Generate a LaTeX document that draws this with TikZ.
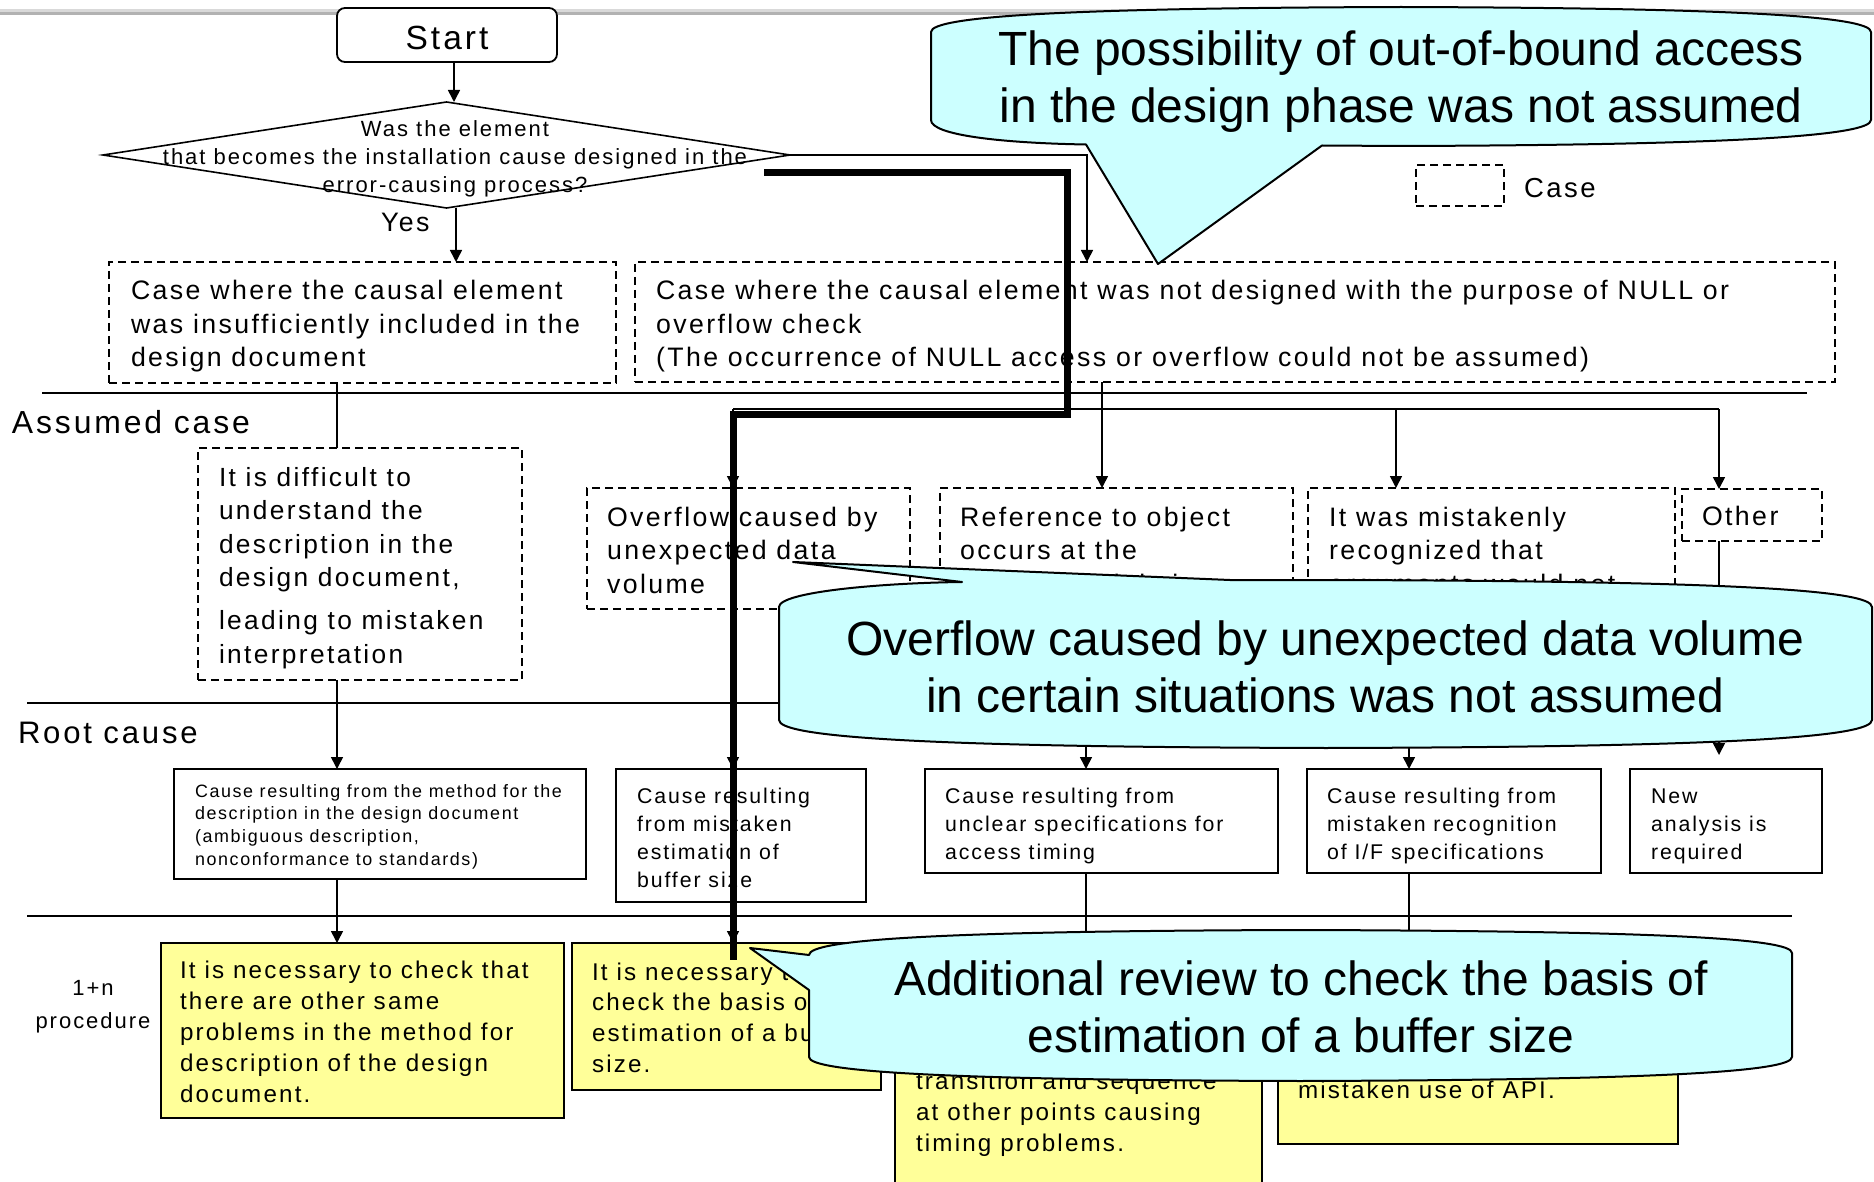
\documentclass[tikz,border=0pt]{standalone}
\usepackage{fontspec}
\setmainfont{Liberation Sans}
\newfontfamily\spacedsans[LetterSpace=9]{Liberation Sans}
\usetikzlibrary{arrows.meta,shapes.geometric}
\definecolor{calloutcyan}{HTML}{CCFFFF}
\definecolor{actionyellow}{HTML}{FFFF99}
% multi-line text whose baseline is the baseline of its first line
\newcommand\leftlines[1]{\vtop{\halign{##\hfil\cr#1\crcr}}}
\newcommand\centerlines[1]{\vtop{\halign{\hfil##\hfil\cr#1\crcr}}}
\newcommand\setfs[2]{\spacedsans\fontsize{#1}{#2}\selectfont}

\begin{document}
\begin{tikzpicture}[x=1pt,y=-1pt,
  every node/.style={inner sep=0pt,outer sep=0pt},
  wire/.style={line width=1.6pt},
  arr/.style={line width=1.6pt,-{Triangle[length=12pt,width=12pt]}},
  casebox/.style={draw,line width=1.5pt,dash pattern=on 8pt off 5pt},
  causebox/.style={draw,fill=white,line width=2pt},
  actbox/.style={draw,fill=actionyellow,line width=2.4pt},
  txt/.style={anchor=base west},
  ctxt/.style={anchor=base},
  callout/.style={fill=calloutcyan,draw=black,line width=2pt,line join=round},
  marker/.style={line width=7pt,line join=miter}
]
\fill[white] (0,0) rectangle (1874,1182);
\useasboundingbox (0,0) rectangle (1874,1182);

% window rule along the top edge
\fill[gray!30] (0,9) rectangle (1874,12);
\fill[gray!60] (0,12) rectangle (1874,15);

% ---------- decision part ----------
\node[draw,fill=white,line width=1.8pt,rounded corners=8pt,minimum width=220pt,minimum height=54pt] (start) at (447,35) {};
\node[ctxt,font=\setfs{33.5}{40}] (startt) at (447,50) {Start};

\node[draw,diamond,line width=1.6pt,minimum width=687pt,minimum height=106pt] (dia) at (446.5,155) {};
\node[ctxt,font=\setfs{22}{28}] (diat) at (455,137) {\centerlines{Was the element\cr that becomes the installation cause designed in the\cr error-causing process?}};
\node[txt,font=\setfs{26.7}{33}] (yes) at (381,232) {Yes};

% ---------- cases ----------
\node[casebox,minimum width=507pt,minimum height=121pt] (box1) at (362.5,322.5) {};
\node[txt,font=\setfs{26.7}{33.3}] (box1t) at (131,300) {\leftlines{Case where the causal element\cr was insufficiently included in the\cr design document}};

\node[casebox,minimum width=1200pt,minimum height=120pt] (box2) at (1235,322) {};
\node[txt,font=\setfs{26.7}{33.3}] (box2t) at (656,300) {\leftlines{Case where the causal element was not designed with the purpose of NULL or\cr overflow check\cr (The occurrence of NULL access or overflow could not be assumed)}};

% legend
\node[casebox,minimum width=88pt,minimum height=41pt] (legbox) at (1460,185.5) {};
\node[txt,font=\setfs{27.5}{33}] (legt) at (1524,198) {Case};

% ---------- band separators and labels ----------
\coordinate (sepA1) at (42,393);   \coordinate (sepA2) at (1807,393);
\coordinate (sepB1) at (27,703);   \coordinate (sepB2) at (1807,703);
\coordinate (sepC1) at (27,916);   \coordinate (sepC2) at (1792,916);
\draw[line width=2pt] (sepA1) -- (sepA2);
\draw[line width=2pt] (sepB1) -- (sepB2);
\draw[line width=2pt] (sepC1) -- (sepC2);
\node[txt,font=\setfs{31.9}{35}] (lblassumed) at (12,433) {Assumed case};
\node[txt,font=\setfs{31.1}{35}] (lblroot) at (18,743) {Root cause};
\node[ctxt,font=\setfs{22}{33}] (lblproc) at (93,995) {\centerlines{1+n\cr procedure}};

% ---------- assumed cases ----------
\node[casebox,minimum width=324pt,minimum height=232pt] (box3) at (360,564) {};
\node[txt,font=\setfs{26.3}{33.6}] (box3t) at (219,486) {\leftlines{It is difficult to\cr understand the\cr description in the\cr design document,\cr\noalign{\vskip 9.4pt} leading to mistaken\cr interpretation}};

\node[casebox,minimum width=323pt,minimum height=121pt] (ovf) at (748.5,548.5) {};
\node[txt,font=\setfs{26.7}{33.5}] (ovft) at (607,526) {\leftlines{Overflow caused by\cr unexpected data\cr volume}};

\node[casebox,minimum width=353pt,minimum height=121pt] (ref) at (1116.5,548.5) {};
\node[txt,font=\setfs{26.7}{33.5}] (reft) at (960,526) {\leftlines{Reference to object\cr occurs at the\cr unexpected timing}};

\node[casebox,minimum width=367pt,minimum height=121pt] (mis) at (1491.5,548.5) {};
\node[txt,font=\setfs{26.7}{33.5}] (mist) at (1329,526) {\leftlines{It was mistakenly\cr recognized that\cr arguments would not}};

\node[casebox,minimum width=140pt,minimum height=52pt] (other) at (1752,515) {};
\node[txt,font=\setfs{26.7}{33.5}] (othert) at (1702,525) {Other};

% ---------- root causes ----------
\node[causebox,minimum width=412pt,minimum height=110pt] (root1) at (380,824) {};
\node[txt,font=\setfs{17.9}{22.7}] (root1t) at (195,797) {\leftlines{Cause resulting from the method for the\cr description in the design document\cr (ambiguous description,\cr nonconformance to standards)}};

\node[causebox,minimum width=250pt,minimum height=133pt] (root2) at (741,835.5) {};
\node[txt,font=\setfs{21.3}{28}] (root2t) at (637,803) {\leftlines{Cause resulting\cr from mistaken\cr estimation of\cr buffer size}};

\node[causebox,minimum width=353pt,minimum height=104pt] (root3) at (1101.5,821) {};
\node[txt,font=\setfs{21.3}{28}] (root3t) at (945,803) {\leftlines{Cause resulting from\cr unclear specifications for\cr access timing}};

\node[causebox,minimum width=294pt,minimum height=104pt] (root4) at (1454,821) {};
\node[txt,font=\setfs{21.3}{28}] (root4t) at (1327,803) {\leftlines{Cause resulting from\cr mistaken recognition\cr of I/F specifications}};

\node[causebox,minimum width=192pt,minimum height=104pt] (root5) at (1726,821) {};
\node[txt,font=\setfs{21.3}{28}] (root5t) at (1651,803) {\leftlines{New\cr analysis is\cr required}};

% ---------- 1+n procedure ----------
\node[actbox,minimum width=403pt,minimum height=175pt] (yel1) at (362.5,1030.5) {};
\node[txt,font=\setfs{24.2}{31}] (yel1t) at (180,978) {\leftlines{It is necessary to check that\cr there are other same\cr problems in the method for\cr description of the design\cr document.}};

\node[actbox,minimum width=309pt,minimum height=147pt] (yel2) at (726.5,1016.5) {};
\node[txt,font=\setfs{24.2}{30.7}] (yel2t) at (592,980) {\leftlines{It is necessary to\cr check the basis of\cr estimation of a buffer\cr size.}};

\node[actbox,minimum width=367pt,minimum height=257pt] (yel3) at (1078.5,1071.5) {};
\node[txt,font=\setfs{24.2}{31}] (yel3t) at (916,1089) {\leftlines{transition and sequence\cr at other points causing\cr timing problems.}};

\node[actbox,minimum width=400pt,minimum height=201pt] (yel4) at (1478,1043.5) {};
\node[txt,font=\setfs{24.2}{31}] (yel4t) at (1298,1098) {mistaken use of API.};

% ---------- connectors ----------
\coordinate (colStart) at (454,0);
\coordinate (colYes) at (456,0);
\coordinate (colNo) at (1087,0);
\coordinate (colBus) at (1102,0);
\coordinate (colLeft) at (337,0);
\coordinate (colRef) at (1086,0);
\coordinate (colMis) at (1409,0);
\coordinate (busL) at (733,409);
\coordinate (busM) at (1396,409);
\coordinate (busR) at (1719,409);
\coordinate (otherTip) at (1719,755);

\draw[arr] (start.south -| colStart) -- (dia.north -| colStart);
\draw[arr] (dia.south -| colYes) -- (box1.north -| colYes);
\draw[arr] (dia.east) -| (box2.north -| colNo);
\draw[wire] (box1.south -| colLeft) -- (box3.north -| colLeft);
\draw[arr] (box3.south -| colLeft) -- (root1.north -| colLeft);
\draw[arr] (root1.south -| colLeft) -- (yel1.north -| colLeft);

\draw[arr] (box2.south -| colBus) -- (ref.north -| colBus);
\draw[wire] (busL) -- (busR);
\draw[arr] (busL) -- (ovf.north -| busL);
\draw[arr] (busM) -- (mis.north -| busM);
\draw[arr] (busR) -- (other.north -| busR);

\draw[arr] (ovf.south -| busL) -- (root2.north -| busL);
\draw[arr] (root2.south -| busL) -- (yel2.north -| busL);
\draw[arr] (ref.south -| colRef) -- (root3.north -| colRef);
\draw[arr] (root3.south -| colRef) -- (yel3.north -| colRef);
\draw[arr] (mis.south -| colMis) -- (root4.north -| colMis);
\draw[arr] (root4.south -| colMis) -- (yel4.north -| colMis);
\draw[arr] (other.south -| otherTip) -- (otherTip);

% ---------- highlighted path ----------
\coordinate (hk0) at (764,173);
\coordinate (hk1) at (1067,173);
\coordinate (hk2) at (1067,414);
\coordinate (hk3) at (733,414);
\coordinate (hk4) at (733,960);
\draw[marker] (hk0) -- (hk1) -- (hk2) -- (hk3) -- (hk4);

% ---------- speech balloons ----------
\filldraw[callout] (931,32) .. controls (931,16) and (1071,8) .. (1401,7)
  .. controls (1731,8) and (1871,16) .. (1871,32) -- (1871,120)
  .. controls (1871,136) and (1731,145) .. (1401,146) -- (1322,145.5)
  -- (1158,264) -- (1086,144.5) .. controls (1000,143) and (931,135) .. (931,120) -- cycle;
\node[ctxt,font=\fontsize{48}{57}\selectfont] (notea) at (1401,66) {\centerlines{The possibility of out-of-bound access\cr in the design phase was not assumed}};

\filldraw[callout] (779,607) .. controls (779,592) and (880,583) .. (962,582)
  -- (793,562) -- (1230,580) -- (1326,580)
  .. controls (1732,581) and (1872,590) .. (1872,607) -- (1872,720)
  .. controls (1872,737) and (1732,747) .. (1326,748)
  .. controls (919,747) and (779,737) .. (779,720) -- cycle;
\node[ctxt,font=\fontsize{48}{57}\selectfont] (noteb) at (1325,655) {\centerlines{Overflow caused by unexpected data volume\cr in certain situations was not assumed}};

\filldraw[callout] (809,955) .. controls (809,939) and (950,931) .. (1300,930)
  .. controls (1650,931) and (1792,938) .. (1792,953) -- (1792,1057)
  .. controls (1792,1072) and (1650,1080) .. (1300,1081)
  .. controls (950,1080) and (809,1072) .. (809,1057) -- (809,990) -- (750,948) -- cycle;
\node[ctxt,font=\fontsize{48}{57}\selectfont] (notec) at (1301,995) {\centerlines{Additional review to check the basis of\cr estimation of a buffer size}};
\end{tikzpicture}
\end{document}
